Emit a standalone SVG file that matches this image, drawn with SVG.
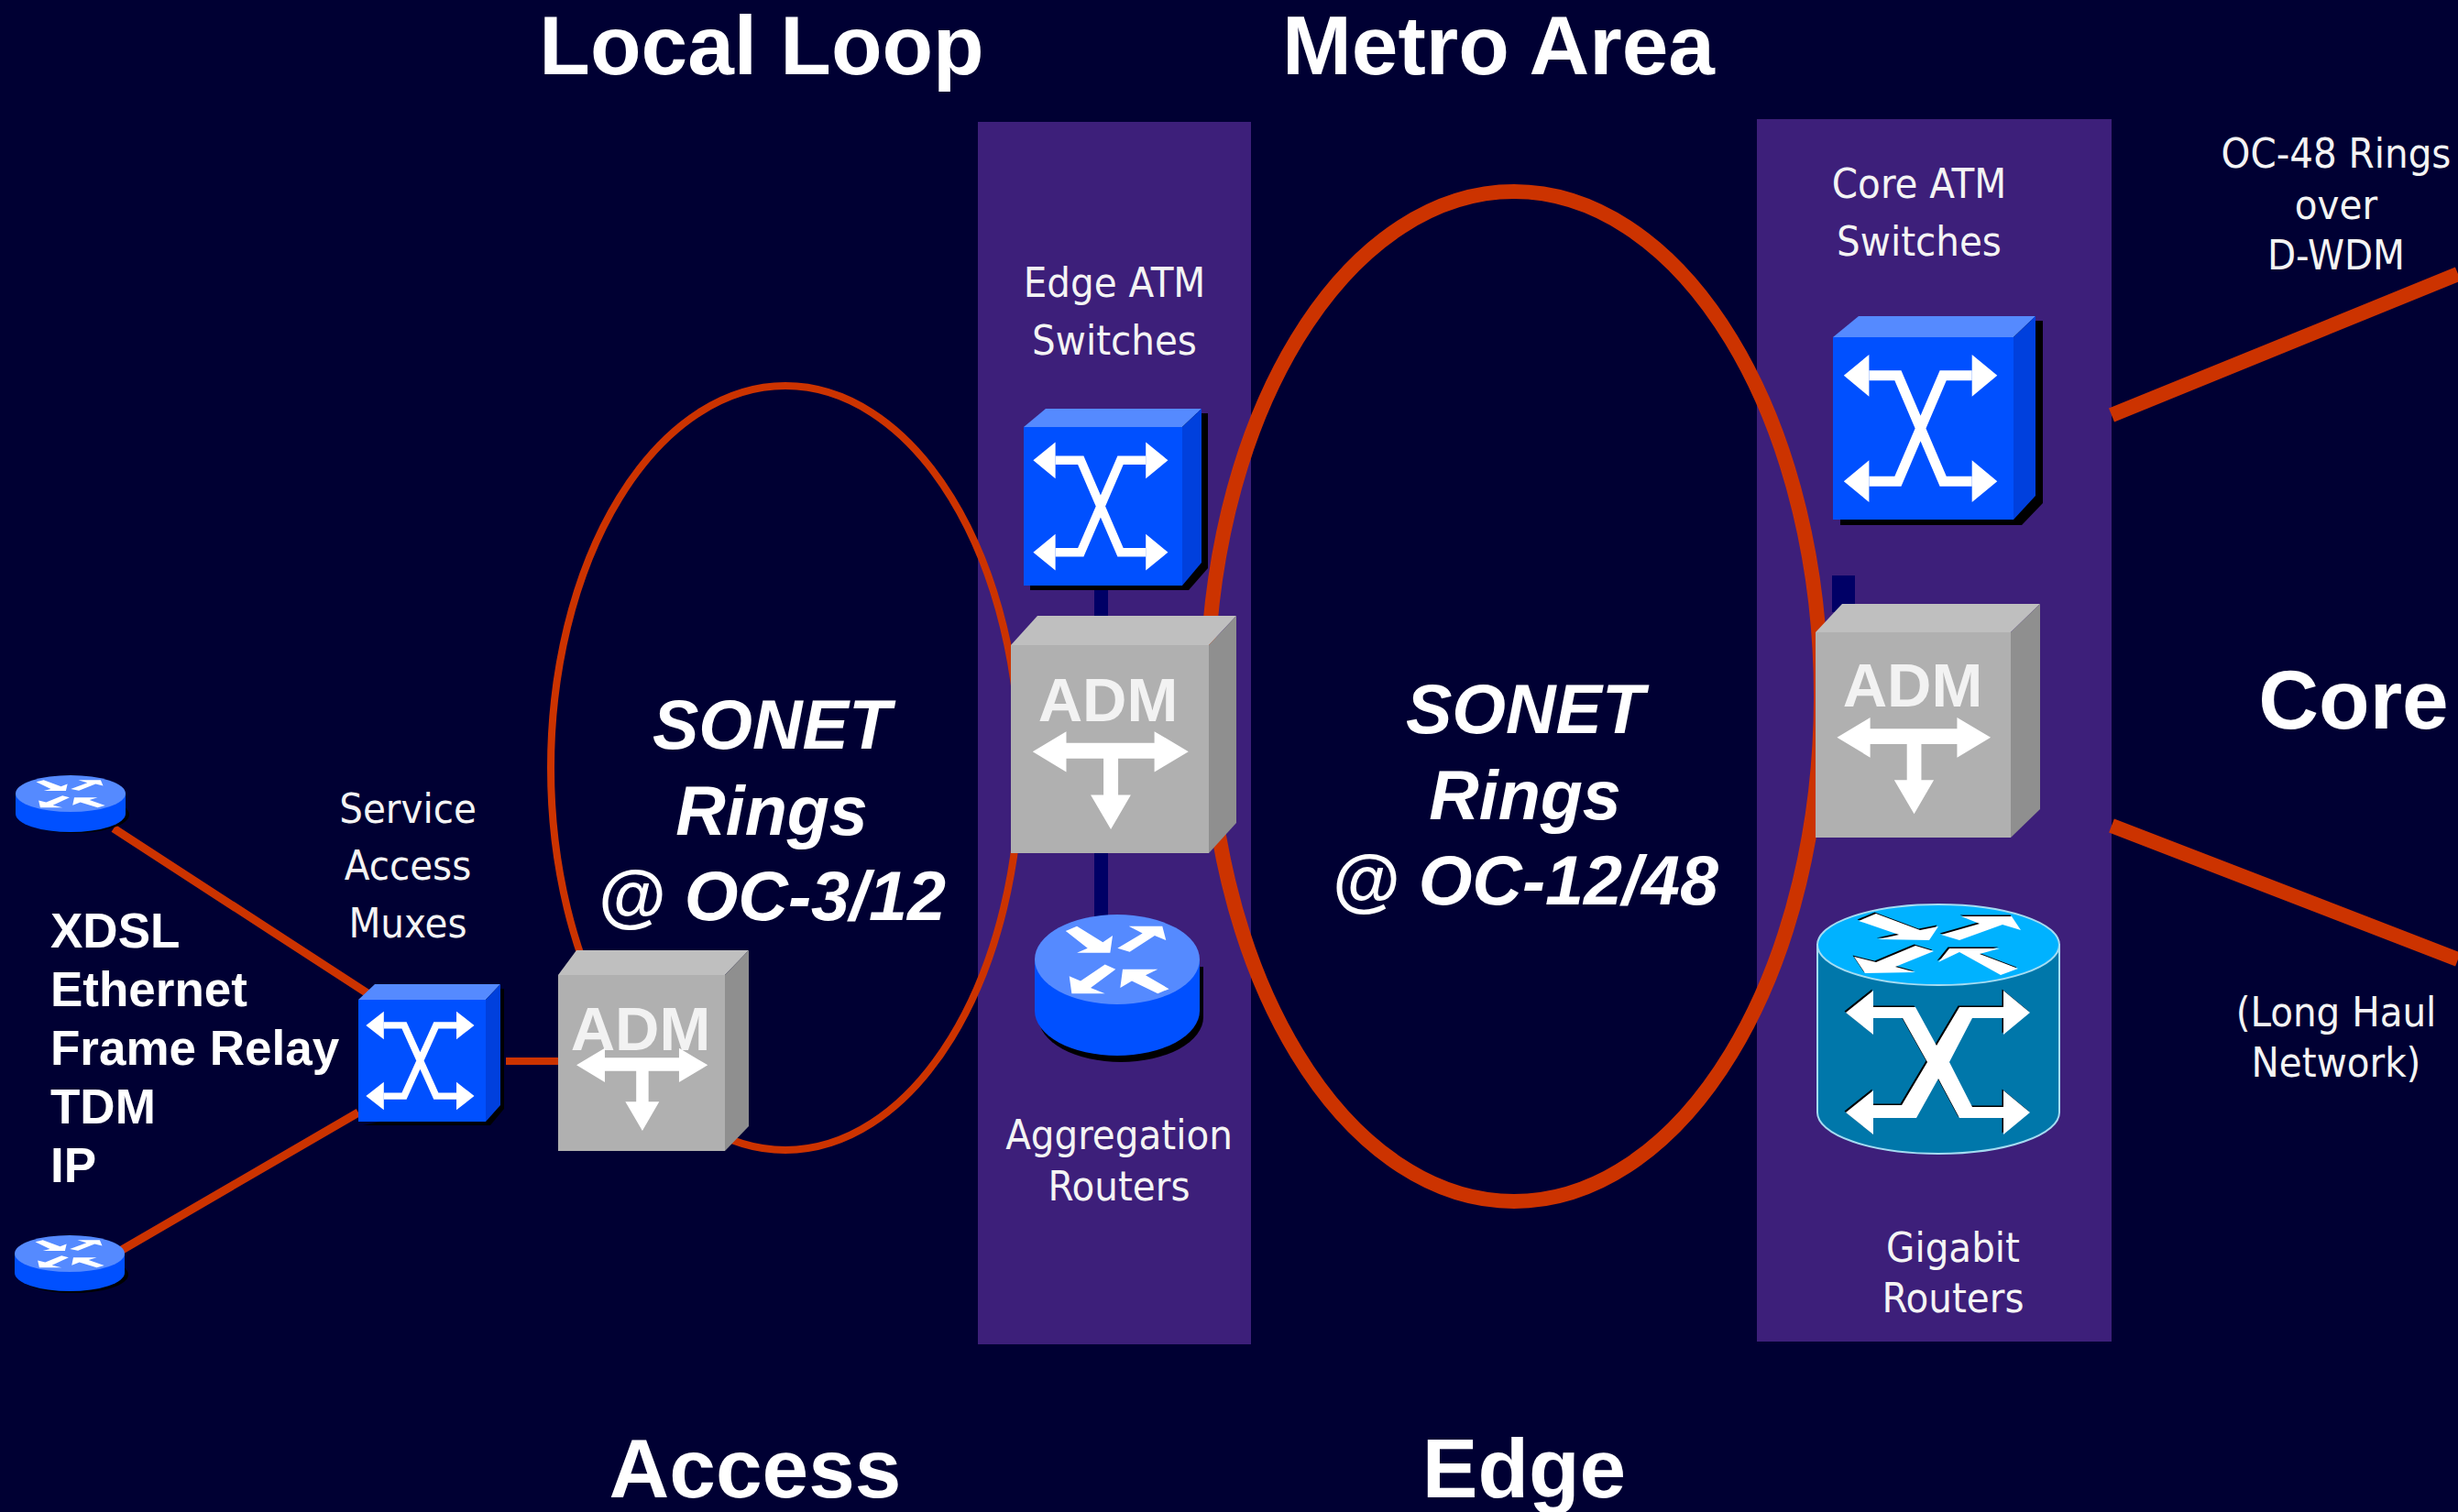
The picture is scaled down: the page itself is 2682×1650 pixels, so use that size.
<svg xmlns="http://www.w3.org/2000/svg" xmlns:xlink="http://www.w3.org/1999/xlink" width="2682" height="1650" viewBox="0 0 2682 1650">
<style>
text{font-family:"Liberation Sans",Arial,sans-serif;fill:#fff}
.title{font-size:91px;font-weight:700;text-anchor:middle}
.ring{font-size:75.5px;font-weight:700;font-style:italic;text-anchor:middle}
.proto{font-size:53px;font-weight:700}
.lab{font-family:"DejaVu Sans Condensed","DejaVu Sans",sans-serif;font-stretch:condensed;font-size:45px;text-anchor:middle;fill:#f4f4f4}
.adm{font-size:67px;font-weight:700;text-anchor:middle;fill:#f2f2f2}
.band{fill:#3d1f7a}
.ol{fill:none;stroke:#cc3300}
.sh{fill:#000}
.front{fill:#0050ff}.top{fill:#558aff}.side{fill:#0040dd}
.gf{fill:#b0b0b0}.gt{fill:#bfbfbf}.gs{fill:#8f8f8f}
.w{fill:#fff}
.navy{fill:#000066}
</style>
<defs>
<g id="xglyph">
<path d="M20 21H36L61 79H77M77 21H61L36 79H20" fill="none" stroke="#fff" stroke-width="5.5"/>
<path class="w" d="M6 21L20 9.5V32.5ZM91 21L77 9.5V32.5ZM6 79L20 67.5V90.5ZM91 79L77 67.5V90.5Z"/>
</g>
<path id="admglyph" class="w" d="M11 51.2L28 41.5V47H46.8 72.5V41.5L89.7 51.2 72.5 61V54.5H54.2V72H60.6L50.5 88.5 40.3 72H46.8V54.5H28V61Z"/>
<g id="rglyph">
<path class="w" d="M-169-61L-132-71-47-37-15-51-23-14H-132L-97-24ZM1-24L83-56 38-71H148L160-41 123-51 41-16ZM-5 21L-40 11-120 46-157 36-149 73H-40L-87 61ZM10 61L18 21H133L93 34 170 63 133 73 48 46Z"/>
</g>
<path id="gtop" d="M2028 1005L2047 997 2095 1015 2115 1011 2105 1026 2049 1025 2072 1020ZM2118 1020L2160 1008 2140 1000H2195L2205 1015 2185 1009 2138 1026ZM2110 1038L2090 1032 2047 1050 2023 1044 2035 1062 2090 1061 2068 1055ZM2115 1050L2127 1035H2182L2160 1041 2202 1057 2183 1064 2138 1039Z"/>
<path id="gcross" d="M2044 1099H2090L2113 1141 2138 1099H2186V1081L2215 1105 2186 1129V1111H2152L2127 1159 2152 1208H2186V1190L2215 1214 2186 1238V1220H2138L2115 1177 2091 1220H2044V1238L2014 1214 2044 1190V1206H2075L2103 1159 2076 1111H2044V1129L2014 1105 2044 1081Z"/>
</defs>
<rect width="2682" height="1650" fill="#000033"/>
<rect class="band" x="1067" y="133" width="298" height="1334"/>
<rect class="band" x="1917" y="130" width="387" height="1334"/>

<g id="connectors">
<ellipse class="ol" cx="857" cy="838" rx="256" ry="417" stroke-width="8"/>
<ellipse class="ol" cx="1652" cy="760" rx="335" ry="551" stroke-width="16"/>
<path class="ol" stroke-width="9" d="M124 904L401 1084M133 1364L391 1214"/>
<path class="ol" stroke-width="8" d="M552 1158H609"/>
<path class="ol" stroke-width="16" d="M2304 453L2682 299M2304 901L2682 1047"/>
<rect class="navy" x="1194" y="639" width="15" height="365"/>
<rect class="navy" x="1999" y="628" width="25" height="40"/>
</g>

<g id="router-top">
<ellipse class="sh" cx="81" cy="889" rx="60" ry="20"/>
<path class="front" d="M17 866V888A60 20 0 0 0 137 888V866Z"/>
<ellipse class="top" cx="77" cy="866" rx="60" ry="20"/>
<use href="#rglyph" transform="translate(77 866) scale(.222 .208)"/>
</g>
<g id="router-bottom">
<ellipse class="sh" cx="80" cy="1391" rx="60" ry="20"/>
<path class="front" d="M16 1368V1389A60 20 0 0 0 136 1389V1368Z"/>
<ellipse class="top" cx="76" cy="1368" rx="60" ry="20"/>
<use href="#rglyph" transform="translate(76 1368) scale(.222 .208)"/>
</g>

<g id="mux">
<path class="sh" d="M396 1228H535L550 1210V1079H530V1200Z"/>
<rect class="front" x="391" y="1091" width="139" height="133"/>
<path class="top" d="M391 1091L409 1074H546L530 1091Z"/>
<path class="side" d="M530 1091L546 1074V1206L530 1224Z"/>
<use href="#xglyph" transform="translate(391 1091) scale(1.39 1.33)"/>
</g>
<g id="adm-left">
<rect class="gf" x="609" y="1064" width="182" height="192"/>
<path class="gt" d="M609 1064L629 1037H817L791 1064Z"/>
<path class="gs" d="M791 1064L817 1037V1229L791 1256Z"/>
<text class="adm" x="699" y="1146">ADM</text>
<use href="#admglyph" transform="translate(609 1064) scale(1.82 1.92)"/>
</g>

<g id="edge-atm">
<path class="sh" d="M1124 644H1297L1318 620V451H1290V639H1124Z"/>
<rect class="front" x="1117" y="466" width="173" height="173"/>
<path class="top" d="M1117 466L1141 446H1311L1290 466Z"/>
<path class="side" d="M1290 466L1311 446V614L1290 639Z"/>
<use href="#xglyph" transform="translate(1117 466) scale(1.73 1.73)"/>
</g>
<g id="adm-edge">
<rect class="gf" x="1103" y="704" width="216" height="227"/>
<path class="gt" d="M1103 704L1132 672H1349L1319 704Z"/>
<path class="gs" d="M1319 704L1349 672V898L1319 931Z"/>
<text class="adm" x="1209" y="787">ADM</text>
<use href="#admglyph" transform="translate(1103 704) scale(2.16 2.27)"/>
</g>
<g id="router-aggregation">
<ellipse class="sh" cx="1223" cy="1110" rx="90" ry="49"/>
<path class="sh" d="M1133 1055H1313V1110H1133Z"/>
<path class="front" d="M1129 1047V1103A90 49 0 0 0 1309 1103V1047Z"/>
<ellipse class="top" cx="1219" cy="1047" rx="90" ry="49"/>
<use href="#rglyph" transform="translate(1219 1047) scale(.333 .51)"/>
</g>

<g id="core-atm">
<path class="sh" d="M2008 573H2206L2229 549V350H2197V567H2008Z"/>
<rect class="front" x="2000" y="368" width="197" height="199"/>
<path class="top" d="M2000 368L2028 345H2221L2197 368Z"/>
<path class="side" d="M2197 368L2221 345V541L2197 567Z"/>
<use href="#xglyph" transform="translate(2000 368) scale(1.97 1.99)"/>
</g>
<g id="adm-core">
<rect class="gf" x="1981" y="690" width="213" height="224"/>
<path class="gt" d="M1981 690L2010 659H2226L2194 690Z"/>
<path class="gs" d="M2194 690L2226 659V883L2194 914Z"/>
<text class="adm" x="2087" y="771">ADM</text>
<use href="#admglyph" transform="translate(1981 690) scale(2.13 2.24)"/>
</g>
<g id="router-gigabit">
<path d="M1983 1031V1214A132 45 0 0 0 2247 1214V1031Z" fill="#0077aa" stroke="#a5dcf2" stroke-width="2"/>
<ellipse cx="2115" cy="1031" rx="132" ry="44" fill="#00b2ff" stroke="#a5dcf2" stroke-width="2"/>
<use href="#gtop" fill="#000" transform="translate(-1.5 -1.5)"/>
<use href="#gtop" fill="#fff"/>
<use href="#gcross" fill="#000" transform="translate(-1.5 -1.5)"/>
<use href="#gcross" fill="#fff"/>
</g>

<g id="labels">
<text class="title" x="831" y="81">Local Loop</text>
<text class="title" x="1635" y="81">Metro Area</text>
<text class="title" x="824" y="1634">Access</text>
<text class="title" x="1663" y="1634">Edge</text>
<text class="title" x="2568" y="795">Core</text>
<text class="ring" x="842" y="817">SONET</text>
<text class="ring" x="842" y="911">Rings</text>
<text class="ring" x="842" y="1004">@ OC-3/12</text>
<text class="ring" x="1664" y="800">SONET</text>
<text class="ring" x="1664" y="894">Rings</text>
<text class="ring" x="1664" y="987">@ OC-12/48</text>
<text class="proto" x="55" y="1034">XDSL</text>
<text class="proto" x="55" y="1098">Ethernet</text>
<text class="proto" x="55" y="1162">Frame Relay</text>
<text class="proto" x="55" y="1226">TDM</text>
<text class="proto" x="55" y="1290">IP</text>
<text class="lab" x="445" y="898">Service</text>
<text class="lab" x="445" y="960">Access</text>
<text class="lab" x="445" y="1023">Muxes</text>
<text class="lab" x="1216" y="324">Edge ATM</text>
<text class="lab" x="1216" y="387">Switches</text>
<text class="lab" x="1221" y="1254">Aggregation</text>
<text class="lab" x="1221" y="1310">Routers</text>
<text class="lab" x="2094" y="216">Core ATM</text>
<text class="lab" x="2094" y="279">Switches</text>
<text class="lab" x="2131" y="1377">Gigabit</text>
<text class="lab" x="2131" y="1432">Routers</text>
<text class="lab" x="2549" y="183">OC-48 Rings</text>
<text class="lab" x="2549" y="239">over</text>
<text class="lab" x="2549" y="294">D-WDM</text>
<text class="lab" x="2549" y="1120">(Long Haul</text>
<text class="lab" x="2549" y="1175">Network)</text>
</g>
</svg>
